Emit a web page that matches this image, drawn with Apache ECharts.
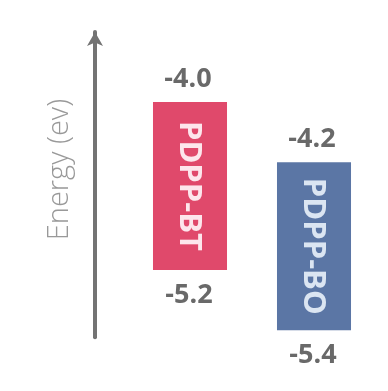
<!DOCTYPE html>
<html>
<head>
<meta charset="utf-8">
<script src="https://cdn.jsdelivr.net/npm/echarts@6/dist/echarts.min.js"></script>
<style>html,body{margin:0;padding:0;background:#fff;}#c{width:388px;height:391px;}</style>
</head>
<body>
<div id="c"></div>
<script>
// Materials and energy levels (eV)
const materials = ['PDPP-BT', 'PDPP-BO'];
const lumoLabels = ['-4.0', '-4.2'];
const homoLabels = ['-5.2', '-5.4'];
// level positions as drawn in the (schematic) diagram
const levelTop = [-4.0, -4.43];
const levelBottom = [-5.2, -5.63];
const xPos = [1, 2];

const barColors = ['#e0496b', '#5b76a5'];
const barTextColors = ['#fde6ec', '#dbe5f2'];
const barW = 0.597;

const chart = echarts.init(document.getElementById('c'), null, {renderer: 'canvas'});
const data = xPos.map((x, i) => [x, levelTop[i], levelBottom[i]]);

function renderItem(params, api) {
  const i = params.dataIndex;
  const x = api.value(0);
  const p1 = api.coord([x, api.value(1)]);
  const p2 = api.coord([x, api.value(2)]);
  const w = api.size([barW, 0])[0];
  const numStyle = {fill: '#696969', font: 'bold 27px "Open Sans"', align: 'center', verticalAlign: 'middle'};
  return {
    type: 'group',
    children: [
      {type: 'rect', shape: {x: p1[0] - w / 2, y: p1[1], width: w, height: p2[1] - p1[1]}, style: {fill: barColors[i]}},
      {type: 'text', x: p1[0] - 1.5, y: (p1[1] + p2[1]) / 2, rotation: -Math.PI / 2,
        style: {text: materials[i], fill: barTextColors[i], font: 'bold 31px "Open Sans"', align: 'center', verticalAlign: 'middle'}},
      {type: 'text', x: p1[0] - 2, y: p1[1] - 23, style: Object.assign({text: lumoLabels[i]}, numStyle)},
      {type: 'text', x: p1[0] - 1, y: p2[1] + 25, style: Object.assign({text: homoLabels[i]}, numStyle)}
    ]
  };
}

chart.setOption({
  backgroundColor: '#ffffff',
  animation: false,
  grid: {left: 66, top: 32, width: 310, height: 305.2},
  xAxis: {type: 'value', min: 0, max: 2.5, show: false},
  yAxis: {
    type: 'value', min: -5.68, max: -3.5, offset: -29,
    axisLine: {show: true, lineStyle: {color: '#737373', width: 4}, symbol: ['none', 'arrow'], symbolSize: [12, 14]},
    axisTick: {show: false}, axisLabel: {show: false}, splitLine: {show: false},
    name: 'Energy (ev)', nameLocation: 'middle', nameRotate: 90, nameGap: 21,
    nameTextStyle: {fontSize: 29, color: '#999999', fontFamily: 'Open Sans', fontWeight: 300, padding: [0, 0, 0, 30]}
  },
  series: [{
    type: 'custom',
    renderItem: renderItem,
    data: data,
    encode: {x: 0, y: [1, 2]}
  }]
});
</script>
</body>
</html>
